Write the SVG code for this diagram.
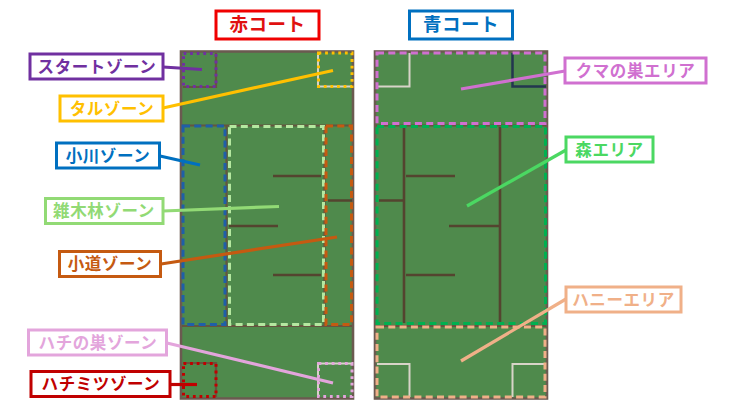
<svg xmlns="http://www.w3.org/2000/svg" width="733" height="407" viewBox="0 0 733 407">
<style>
.lb{fill:#fff;stroke-width:3}
.t{font-family:"Noto Sans CJK JP","Noto Sans",sans-serif;font-weight:700;font-size:16.500px;text-anchor:middle;letter-spacing:.6px}
.tt{font-size:18.500px;letter-spacing:.5px}
.court{fill:#4f8a4c;stroke:#6b5a50;stroke-width:2.600}
.w{stroke:#54442f;stroke-width:2.600;fill:none}
.b{stroke:#65553f;stroke-width:2.200;fill:none}
.z{fill:none;stroke-width:3}
.d1{stroke-dasharray:7 4.300}
.d2{stroke-dasharray:2.800 3.800}
.c{stroke-width:3.200;fill:none}
.cw{stroke:#d8d4c8;stroke-width:2;fill:none}
</style>
<rect width="733" height="407" fill="#fff"/>
<g id="court-red">
<rect class="court" x="181" y="51.500" width="172" height="347"/>
<path class="b" d="M182 125.500H352M182 326H352M226.500 126V325M324.500 126V325"/>
<path class="w" d="M273 176H321M229 226H278M273 275H321M328 200.500H352"/>
<path class="b" d="M183 87H216V53M183 363H216V397"/>
<path class="cw" d="M318 53V86.500H352M318 397V363.500H352"/>
</g>
<g id="court-blue">
<rect class="court" x="375" y="51.500" width="172" height="347"/>
<path class="b" d="M376 125.500H546M376 326H546"/>
<path class="w" d="M404 127V323M500 127V323M406 176H455M449 226H500M406 275H455M379 200.500H403"/>
<path class="cw" d="M377 86.500H409.500V53M377 364H409.500V397M512.500 397V364H546"/>
<path d="M546 86.500H512.500V53" fill="none" stroke="#23364f" stroke-width="2.500"/>
</g>
<g id="zone-start"><rect class="z d2" x="183.500" y="53.500" width="32.500" height="33" stroke="#7030a0"/></g>
<g id="zone-tar"><rect class="z d2" x="318.500" y="53" width="33.500" height="33.500" stroke="#ffc000"/></g>
<g id="zone-ogawa"><rect class="z d1" x="183" y="126" width="42" height="198.500" stroke="#1f5fa8"/></g>
<g id="zone-zoki"><rect class="z d1" x="229.500" y="126.500" width="94" height="198" stroke="#b5e8a0"/></g>
<g id="zone-komichi"><rect class="z d1" x="326" y="126" width="25.500" height="198.500" stroke="#c55a11"/></g>
<g id="zone-hachinosu"><rect class="z d2" x="318.500" y="363.500" width="33.500" height="33" stroke="#e3a5dc"/></g>
<g id="zone-hachimitsu"><rect class="z d2" x="183.500" y="363.500" width="32.500" height="33" stroke="#c00000"/></g>
<g id="area-kuma"><rect class="z d1" x="377" y="53" width="168" height="70.500" stroke="#d070d0"/></g>
<g id="area-mori"><rect class="z d1" x="377" y="126.500" width="168.500" height="197" stroke="#00b050"/></g>
<g id="area-honey"><rect class="z d1" x="377" y="327" width="168" height="70" stroke="#f0b088"/></g>
<g id="connectors">
<path class="c" stroke="#7030a0" d="M163 67L202 69.500"/>
<path class="c" stroke="#ffc000" d="M163 108L333 70.500"/>
<path class="c" stroke="#0070c0" d="M160 156L200 165"/>
<path class="c" stroke="#92da75" d="M163 211L279 206.500"/>
<path class="c" stroke="#c55a11" d="M161 264L337 237"/>
<path class="c" stroke="#e3a5dc" d="M167 343L333 383"/>
<path class="c" stroke="#c00000" d="M170 384.500H197"/>
<path class="c" stroke="#d070d0" d="M565 71L461 89"/>
<path class="c" stroke="#4bd862" d="M566 150L467 206"/>
<path class="c" stroke="#f0b088" d="M566 299L461 361"/>
</g>
<g id="title-red"><rect class="lb" x="216" y="11" width="103" height="28" stroke="#f00000"/><text class="t tt" x="267.500" y="31" fill="#e01010">赤コート</text></g>
<g id="title-blue"><rect class="lb" x="409.500" y="11" width="103" height="28" stroke="#0070c0"/><text class="t tt" x="461" y="31" fill="#0070c0">青コート</text></g>
<g id="label-start"><rect class="lb" x="30" y="54" width="133" height="25" stroke="#7030a0"/><text class="t" x="97" y="72.500" fill="#7030a0">スタートゾーン</text></g>
<g id="label-tar"><rect class="lb" x="60" y="96" width="103" height="25" stroke="#ffc000"/><text class="t" x="112" y="114.500" fill="#ffc000">タルゾーン</text></g>
<g id="label-ogawa"><rect class="lb" x="56.500" y="143" width="103" height="25" stroke="#0070c0"/><text class="t" x="108" y="161.500" fill="#0070c0">小川ゾーン</text></g>
<g id="label-zoki"><rect class="lb" x="45.500" y="198.500" width="117.500" height="25" stroke="#92da75"/><text class="t" x="104" y="217" fill="#92da75">雑木林ゾーン</text></g>
<g id="label-komichi"><rect class="lb" x="59.500" y="251.500" width="101" height="25" stroke="#c55a11"/><text class="t" x="110" y="270" fill="#c55a11">小道ゾーン</text></g>
<g id="label-hachinosu"><rect class="lb" x="28.500" y="330" width="138" height="25" stroke="#e3a5dc"/><text class="t" x="98" y="348.500" fill="#e3a5dc">ハチの巣ゾーン</text></g>
<g id="label-hachimitsu"><rect class="lb" x="31" y="371.500" width="139" height="25" stroke="#c00000"/><text class="t" x="101" y="390" fill="#c00000">ハチミツゾーン</text></g>
<g id="label-kuma"><rect class="lb" x="565" y="58" width="141" height="25" stroke="#d070d0"/><text class="t" x="635.500" y="76.500" fill="#d070d0">クマの巣エリア</text></g>
<g id="label-mori"><rect class="lb" x="566" y="137" width="87" height="25" stroke="#4bd862"/><text class="t" x="609.500" y="155.500" fill="#4bd862">森エリア</text></g>
<g id="label-honey"><rect class="lb" x="566" y="287" width="115" height="25" stroke="#f0b088"/><text class="t" x="623.500" y="305.500" fill="#f0b088">ハニーエリア</text></g>
</svg>
